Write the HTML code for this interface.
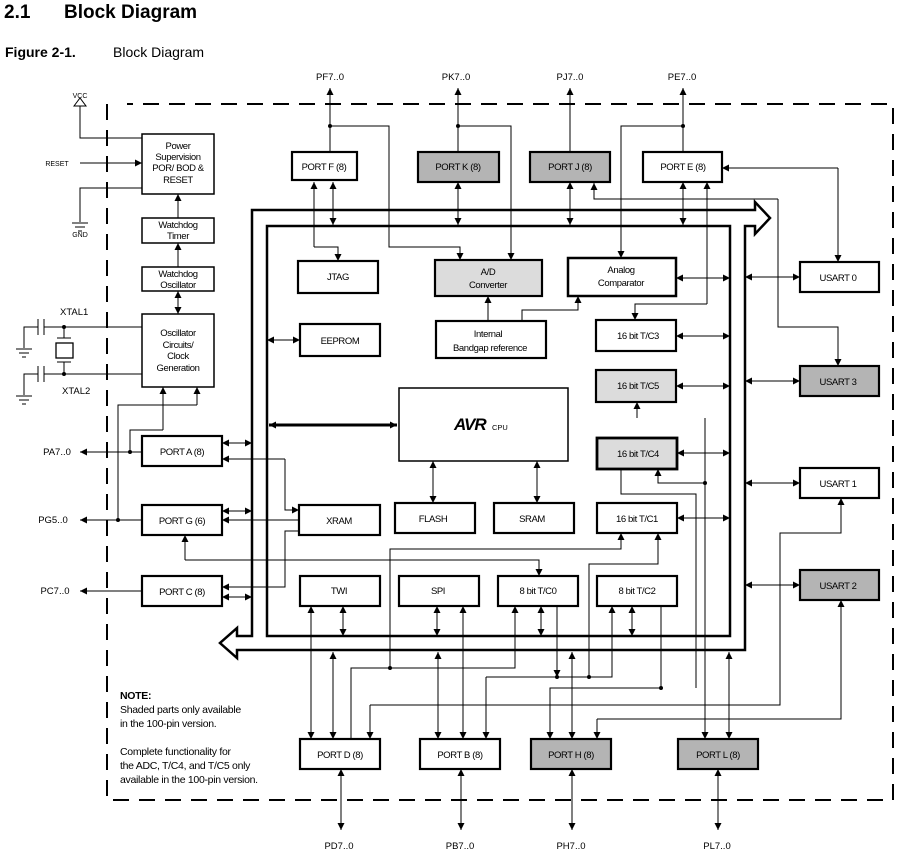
<!DOCTYPE html>
<html><head><meta charset="utf-8"><style>
body{margin:0;background:#fff;}
svg{display:block;font-family:"Liberation Sans",sans-serif;}
.b{fill:#fff;stroke:#000;stroke-width:2.2}
.g{fill:#b4b4b4;stroke:#000;stroke-width:2.2}
.l{fill:#dcdcdc;stroke:#000;stroke-width:2.2}
.w{fill:none;stroke:#000;stroke-width:1}
.t{font-size:9.5px;text-anchor:middle;letter-spacing:-0.4px}
</style></head><body>
<svg width="915" height="862" viewBox="0 0 915 862" xmlns="http://www.w3.org/2000/svg">
<defs>
<marker id="a" viewBox="0 0 10 10" refX="10" refY="5" markerWidth="7" markerHeight="7" orient="auto-start-reverse" markerUnits="userSpaceOnUse"><path d="M0,0L10,5L0,10z"/></marker>
</defs>
<text x="4" y="18" font-size="19" font-weight="bold">2.1</text>
<text x="64" y="18" font-size="19" font-weight="bold">Block Diagram</text>
<text x="5" y="57" font-size="14" font-weight="bold">Figure 2-1.</text>
<text x="113" y="57" font-size="14">Block Diagram</text>

<path d="M107,104V800H893V104H127" fill="none" stroke="#000" stroke-width="2" stroke-dasharray="16,10"/>

<path d="M755,210H252V636H237V628L220,643L237,658V650H745V226H755V234L770,218L755,202Z" fill="#fff" stroke="#000" stroke-width="2.5"/>
<rect x="267" y="226" width="463" height="410" fill="none" stroke="#000" stroke-width="2.5"/>

<g class="w" marker-end="url(#a)">
<path d="M330,152V88"/><path d="M458,152V88"/><path d="M570,152V88"/><path d="M683,152V88"/>
<path d="M330,126H389V247H460V260"/>
<path d="M458,126H511V260"/>
<path d="M683,126H621V258"/>
<path d="M707,304H635V320"/>
<path d="M838,168V262"/>
<path d="M778,199V327H838V366"/>
<path d="M522,321V310H578V296"/>
<path d="M488,321V296"/>
<path d="M637,418V402"/>
<path d="M705,418V739"/>
<path d="M705,483H658V469"/>
<path d="M661,606V688H550V739"/>
<path d="M351,739V668H515V606"/>
<path d="M390,668V549H621V533"/>
<path d="M370,705H780V533H841V498"/>
<path d="M185,560H539V576"/>
<path d="M486,677H612V606"/>
<path d="M557,606V677"/>
<path d="M589,677V564H658V533"/>
<path d="M597,719H841V600"/>
<path d="M285,459V510H299"/>
<path d="M299,531H285V587H222"/>
<path d="M370,705V739"/><path d="M486,677V739"/><path d="M597,719V739"/>
<path d="M185,560V535"/>
<path d="M707,304V182"/>
<path d="M838,168H722"/>
<path d="M778,199H594V183"/>
<path d="M299,520H222"/>
<path d="M285,459H222"/>
<path d="M314,247V182"/>
<path d="M314,247H338V261"/>
<path d="M142,452H80"/><path d="M142,520H80"/><path d="M142,591H80"/>
<path d="M80,163H142"/>
<path d="M178,218V194"/><path d="M178,267V243"/>
<path d="M163,430V387"/><path d="M197,405V387"/>
</g>
<path class="w" d="M696,688V494H621V469"/>
<g class="w" marker-start="url(#a)" marker-end="url(#a)">
<path d="M333,182V225"/><path d="M458,182V225"/><path d="M570,182V225"/><path d="M683,182V225"/>
<path d="M676,278H730"/><path d="M676,336H730"/><path d="M676,386H730"/><path d="M677,453H730"/><path d="M677,518H730"/>
<path d="M745,277H800"/><path d="M745,381H800"/><path d="M745,483H800"/><path d="M745,585H800"/>
<path d="M267,340H300"/>
<path d="M433,461V503"/><path d="M537,461V503"/>
<path d="M343,606V636"/><path d="M437,606V636"/><path d="M541,606V636"/><path d="M632,606V636"/>
<path d="M222,443H252"/><path d="M222,511H252"/><path d="M222,597H252"/>
<path d="M311,606V739"/><path d="M333,652V739"/><path d="M438,652V739"/><path d="M463,606V739"/><path d="M572,652V739"/><path d="M729,652V739"/>
<path d="M341,769V830"/><path d="M461,769V830"/><path d="M572,769V830"/><path d="M718,769V830"/>
<path d="M178,291V314"/>
</g>
<path d="M269,425H397" stroke="#000" stroke-width="3" marker-start="url(#a)" marker-end="url(#a)"/>
<g fill="#000"><circle cx="330" cy="126" r="2"/><circle cx="458" cy="126" r="2"/><circle cx="683" cy="126" r="2"/>
<circle cx="390" cy="668" r="2"/><circle cx="557" cy="677" r="2"/><circle cx="589" cy="677" r="2"/><circle cx="661" cy="688" r="2"/><circle cx="705" cy="483" r="2"/>
<circle cx="64" cy="327" r="2"/><circle cx="64" cy="374" r="2"/><circle cx="118" cy="520" r="2"/><circle cx="130" cy="452" r="2"/></g>
<path class="w" d="M163,430H130V452M197,405H118V520"/>

<path class="w" d="M80,105V138H142M142,188H80V222"/>
<path d="M74,106L80,98L86,106Z" fill="#fff" stroke="#000"/>
<path class="w" d="M72,223H88M75,227H85M78,231H82" stroke-width="1.5"/>
<text x="80" y="98" font-size="7" text-anchor="middle">VCC</text>
<text x="57" y="166" font-size="7" text-anchor="middle">RESET</text>
<text x="80" y="237" font-size="7" text-anchor="middle">GND</text>
<path class="w" d="M44,327H142M44,374H142M64,327V338M64,362V374M38,327H24V348M38,374H24V395"/>
<path class="w" d="M38,319V335M44,319V335M38,366V382M44,366V382M57,338H71M57,362H71" stroke-width="2"/>
<rect x="56" y="343" width="17" height="15" fill="#fff" stroke="#000" stroke-width="1.3"/>
<path class="w" d="M16,349H32M19,353H29M22,357H26M16,396H32M19,400H29M22,404H26" stroke-width="1.5"/>
<text x="60" y="315" font-size="9.5">XTAL1</text>
<text x="62" y="394" font-size="9.5">XTAL2</text>

<rect class="b" x="142" y="134" width="72" height="60" style="stroke-width:1.5"/>
<text class="t" x="178" y="149">Power</text><text class="t" x="178" y="160">Supervision</text><text class="t" x="178" y="171">POR/ BOD &amp;</text><text class="t" x="178" y="183">RESET</text>
<rect class="b" x="142" y="218" width="72" height="25" style="stroke-width:1.5"/>
<text class="t" x="178" y="228">Watchdog</text><text class="t" x="178" y="239">Timer</text>
<rect class="b" x="142" y="267" width="72" height="24" style="stroke-width:1.5"/>
<text class="t" x="178" y="277">Watchdog</text><text class="t" x="178" y="288">Oscillator</text>
<rect class="b" x="142" y="314" width="72" height="73" style="stroke-width:1.5"/>
<text class="t" x="178" y="336">Oscillator</text><text class="t" x="178" y="348">Circuits/</text><text class="t" x="178" y="359">Clock</text><text class="t" x="178" y="371">Generation</text>

<rect class="b" x="142" y="436" width="80" height="30"/><text class="t" x="182" y="455">PORT A (8)</text>
<rect class="b" x="142" y="505" width="80" height="30"/><text class="t" x="182" y="524">PORT G (6)</text>
<rect class="b" x="142" y="576" width="80" height="30"/><text class="t" x="182" y="595">PORT C (8)</text>
<text x="57" y="455" font-size="9.5" text-anchor="middle">PA7..0</text>
<text x="53" y="523" font-size="9.5" text-anchor="middle">PG5..0</text>
<text x="55" y="594" font-size="9.5" text-anchor="middle">PC7..0</text>

<rect class="b" x="292" y="152" width="65" height="28"/><text class="t" x="324" y="170">PORT F (8)</text>
<rect class="g" x="418" y="152" width="81" height="30"/><text class="t" x="458" y="170">PORT K (8)</text>
<rect class="g" x="530" y="152" width="80" height="30"/><text class="t" x="570" y="170">PORT J (8)</text>
<rect class="b" x="643" y="152" width="79" height="30"/><text class="t" x="683" y="170">PORT E (8)</text>
<text x="330" y="80" font-size="9.5" text-anchor="middle">PF7..0</text>
<text x="456" y="80" font-size="9.5" text-anchor="middle">PK7..0</text>
<text x="570" y="80" font-size="9.5" text-anchor="middle">PJ7..0</text>
<text x="682" y="80" font-size="9.5" text-anchor="middle">PE7..0</text>

<rect class="b" x="298" y="261" width="80" height="32"/><text class="t" x="338" y="280">JTAG</text>
<rect class="l" x="435" y="260" width="107" height="36"/><text class="t" x="488" y="275">A/D</text><text class="t" x="488" y="288">Converter</text>
<rect class="b" x="568" y="258" width="108" height="38" style="stroke-width:2.5"/><text class="t" x="621" y="273">Analog</text><text class="t" x="621" y="286">Comparator</text>
<rect class="b" x="300" y="324" width="80" height="32"/><text class="t" x="340" y="344">EEPROM</text>
<rect class="b" x="436" y="321" width="110" height="37"/><text class="t" x="488" y="337">Internal</text><text class="t" x="490" y="351">Bandgap reference</text>
<rect class="b" x="596" y="320" width="80" height="31"/><text class="t" x="638" y="339">16 bit T/C3</text>
<rect class="l" x="596" y="370" width="80" height="32"/><text class="t" x="638" y="389">16 bit T/C5</text>
<rect class="b" x="399" y="388" width="169" height="73" style="stroke-width:1.5"/>
<text x="454" y="430" font-size="17" font-weight="bold" font-style="italic" letter-spacing="-1">AVR</text><text x="492" y="430" font-size="7.5">CPU</text>
<rect class="l" x="597" y="438" width="80" height="31" style="stroke-width:2.8"/><text class="t" x="638" y="457">16 bit T/C4</text>
<rect class="b" x="299" y="505" width="81" height="30"/><text class="t" x="339" y="524">XRAM</text>
<rect class="b" x="395" y="503" width="80" height="30"/><text class="t" x="433" y="522">FLASH</text>
<rect class="b" x="494" y="503" width="80" height="30"/><text class="t" x="532" y="522">SRAM</text>
<rect class="b" x="597" y="503" width="80" height="30"/><text class="t" x="637" y="522">16 bit T/C1</text>
<rect class="b" x="300" y="576" width="80" height="30"/><text class="t" x="339" y="594">TWI</text>
<rect class="b" x="399" y="576" width="80" height="30"/><text class="t" x="438" y="594">SPI</text>
<rect class="b" x="498" y="576" width="80" height="30"/><text class="t" x="538" y="594">8 bit T/C0</text>
<rect class="b" x="597" y="576" width="80" height="30"/><text class="t" x="637" y="594">8 bit T/C2</text>

<rect class="b" x="800" y="262" width="79" height="30"/><text class="t" x="838" y="281">USART 0</text>
<rect class="g" x="800" y="366" width="79" height="30"/><text class="t" x="838" y="385">USART 3</text>
<rect class="b" x="800" y="468" width="79" height="30"/><text class="t" x="838" y="487">USART 1</text>
<rect class="g" x="800" y="570" width="79" height="30"/><text class="t" x="838" y="589">USART 2</text>

<rect class="b" x="300" y="739" width="80" height="30"/><text class="t" x="340" y="758">PORT D (8)</text>
<rect class="b" x="420" y="739" width="80" height="30"/><text class="t" x="460" y="758">PORT B (8)</text>
<rect class="g" x="531" y="739" width="80" height="30"/><text class="t" x="571" y="758">PORT H (8)</text>
<rect class="g" x="678" y="739" width="80" height="30"/><text class="t" x="718" y="758">PORT L (8)</text>
<text x="339" y="849" font-size="9.5" text-anchor="middle">PD7..0</text>
<text x="460" y="849" font-size="9.5" text-anchor="middle">PB7..0</text>
<text x="571" y="849" font-size="9.5" text-anchor="middle">PH7..0</text>
<text x="717" y="849" font-size="9.5" text-anchor="middle">PL7..0</text>

<g font-size="10.5" letter-spacing="-0.3">
<text x="120" y="699" font-weight="bold">NOTE:</text>
<text x="120" y="713">Shaded parts only available</text>
<text x="120" y="727">in the 100-pin version.</text>
<text x="120" y="755">Complete functionality for</text>
<text x="120" y="769">the ADC, T/C4, and T/C5 only</text>
<text x="120" y="783">available in the 100-pin version.</text>
</g>
</svg>
</body></html>
